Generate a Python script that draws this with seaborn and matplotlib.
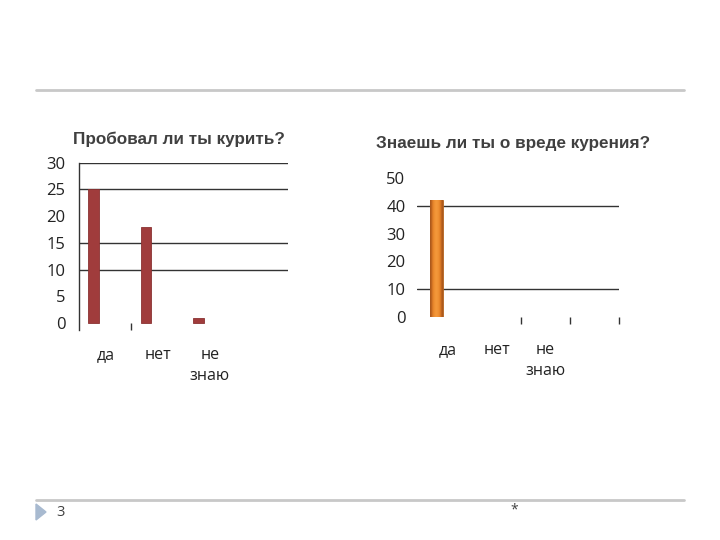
import numpy as np
import pandas as pd
import matplotlib
matplotlib.use("Agg")
import matplotlib.pyplot as plt
import seaborn as sns
from matplotlib.lines import Line2D
from matplotlib.patches import Polygon

sns.set_theme(style="white")
plt.rcParams['font.family'] = ['Open Sans', 'DejaVu Sans']

# ---- data ----
categories = ["да", "нет", "не\nзнаю", " "]
tried_values = [25, 18, 1, np.nan]
harm_values = [42, 0, 0, np.nan]
title_left = "Пробовал ли ты курить?"
title_right = "Знаешь ли ты о вреде курения?"
left_yticks = [0, 5, 10, 15, 20, 25, 30]
left_grid = [10, 15, 25, 30]
right_yticks = [0, 10, 20, 30, 40, 50]
right_grid = [10, 40]

fig = plt.figure(figsize=(7.2, 5.4), dpi=100)
W, H = 720, 540

def fx(x):
    return x / W

def fy(y):
    return 1 - y / H

# slide decorations
fig.add_artist(Line2D([fx(36), fx(684)], [fy(90), fy(90)], color="#c8c8c8", lw=2))
fig.add_artist(Line2D([fx(36), fx(684)], [fy(500), fy(500)], color="#c8c8c8", lw=2))
fig.add_artist(Polygon([[fx(36), fy(504)], [fx(46), fy(512)], [fx(36), fy(520)]],
                       closed=True, color="#a8bad0", transform=fig.transFigure))
fig.text(fx(56), fy(513), "3", fontsize=10.5, color="#404040", va="center")
fig.text(fx(514), fy(510), "*", fontsize=10, color="#404040", va="center", ha="center")

offset = -0.222
bw = 0.21
tick_fs = 12
cat_fs = 11.5

# ---- left chart ----
axL = fig.add_axes([fx(79.3), fy(330), fx(288 - 79.3), (330 - 162.5) / H])
dfL = pd.DataFrame({"cat": categories, "val": tried_values})
sns.barplot(data=dfL, x="cat", y="val", ax=axL, color="#a03c3c", width=bw,
            saturation=1, order=categories)
for p in axL.patches:
    p.set_x(p.get_x() + offset)
    p.set_edgecolor("#8a3232")
    p.set_linewidth(0.6)
axL.set_xlim(-0.5, 3.5)
axL.set_ylim(-1.3, 30)
axL.set_yticks(left_yticks)
axL.set_yticklabels([str(v) for v in left_yticks], fontsize=tick_fs, color="#222222")
for g in left_grid:
    axL.axhline(g, color="#333333", lw=1, zorder=0)
for s in ["top", "right", "bottom"]:
    axL.spines[s].set_visible(False)
axL.spines["left"].set_color("#333333")
axL.spines["left"].set_linewidth(1)
axL.tick_params(axis="y", length=0, pad=10)
axL.set_xticks(range(4))
axL.set_xticklabels(categories, fontsize=cat_fs, color="#222222", linespacing=1.45, va="top")
axL.tick_params(axis="x", which="major", length=0, pad=12)
axL.set_xticks([0.5], minor=True)
axL.tick_params(axis="x", which="minor", direction="in", length=5, width=1, color="#333333",
                bottom=True)
axL.set_xlabel("")
axL.set_ylabel("")
fig.text(fx(179), fy(139), title_left, fontsize=12.3, fontweight="bold", color="#404040",
         ha="center", va="center", family=["Liberation Sans", "DejaVu Sans"])

# ---- right chart ----
axR = fig.add_axes([fx(416.5), fy(316.7), fx(618.5 - 416.5), (316.7 - 178.3) / H])
dfR = pd.DataFrame({"cat": categories, "val": harm_values})
sns.barplot(data=dfR, x="cat", y="val", ax=axR, color="#ee8a2a", width=0.25,
            saturation=1, order=categories)
axR.set_xlim(-0.65, 3.5)
axR.set_ylim(0, 50)
grad = np.array([[0.0, 0.55, 0.85, 1.0, 0.85, 0.55, 0.0]])
cmap = matplotlib.colors.LinearSegmentedColormap.from_list(
    "org", ["#a9561c", "#e47e24", "#f59a3c"])
for p in axR.patches:
    p.set_x(p.get_x() - 0.24)
    h = p.get_height()
    if np.isfinite(h) and h > 0:
        x0 = p.get_x()
        w = p.get_width()
        im = axR.imshow(grad, cmap=cmap, aspect="auto", extent=[x0, x0 + w, 0, h],
                        zorder=p.get_zorder() + 0.1, interpolation="bicubic")
        im.set_clip_path(p)
        p.set_edgecolor("#b0601e")
        p.set_linewidth(0.6)
axR.set_xlim(-0.65, 3.5)
axR.set_ylim(0, 50)
axR.set_yticks(right_yticks)
axR.set_yticklabels([str(v) for v in right_yticks], fontsize=tick_fs, color="#222222")
for g in right_grid:
    axR.axhline(g, color="#333333", lw=1, zorder=0)
for s in ["top", "right", "bottom", "left"]:
    axR.spines[s].set_visible(False)
axR.tick_params(axis="y", length=0, pad=8)
axR.set_xticks(range(4))
axR.set_xticklabels(categories, fontsize=cat_fs, color="#222222", linespacing=1.45, va="top")
axR.tick_params(axis="x", which="major", length=0, pad=18)
axR.set_xticks([1.5, 2.5, 3.5], minor=True)
axR.tick_params(axis="x", which="minor", direction="out", length=5, width=1, color="#333333",
                bottom=True)
axR.set_xlabel("")
axR.set_ylabel("")
fig.text(fx(513), fy(144), title_right, fontsize=12.3, fontweight="bold", color="#404040",
         ha="center", va="center", family=["Liberation Sans", "DejaVu Sans"])

fig.savefig("out.png", dpi=100)
